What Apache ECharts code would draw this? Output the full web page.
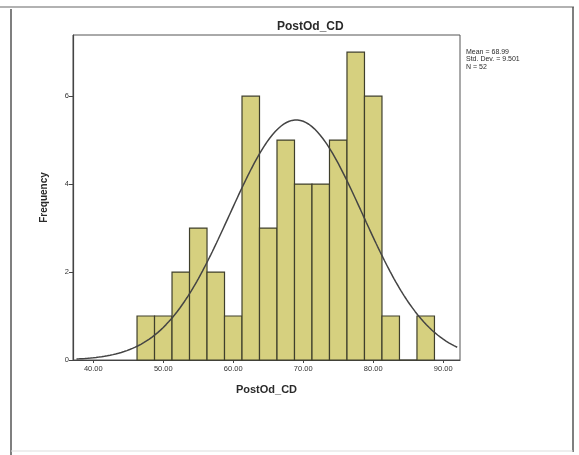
<!DOCTYPE html>
<html>
<head>
<meta charset="utf-8">
<script src="https://cdn.jsdelivr.net/npm/echarts@6/dist/echarts.min.js"></script>
<style>html,body{margin:0;padding:0;background:#fff;}#c{width:579px;height:455px;}</style>
</head>
<body>
<div id="c"></div>
<script>
// Histogram bins (lower edges, width 2.5) and frequencies
var binStarts = [46.25, 48.75, 51.25, 53.75, 56.25, 58.75, 61.25, 63.75, 66.25, 68.75, 71.25, 73.75, 76.25, 78.75, 81.25, 83.75, 86.25];
var counts    = [1, 1, 2, 3, 2, 1, 6, 3, 5, 4, 4, 5, 7, 6, 1, 0, 1];
var binWidth = 2.5;
var xTicks = [40, 50, 60, 70, 80, 90];
var yTicks = [0, 2, 4, 6];
var statMean = 68.99, statSD = 9.501, statN = 52;

var barData = binStarts.map(function (s, i) { return [s, s + binWidth, counts[i]]; });

// Fitted normal curve (from the displayed mean, SD, N)
var curve = [];
for (var x = 37.6; x <= 92.2; x += 0.2) {
  var z = (x - statMean) / statSD;
  curve.push([x, statN * binWidth * Math.exp(-0.5 * z * z) / (statSD * Math.sqrt(2 * Math.PI))]);
}

var chart = echarts.init(document.getElementById('c'));
chart.setOption({
  animation: false,
  backgroundColor: '#fff',
  title: {
    text: 'PostOd_CD', left: 272, top: 16,
    textStyle: { fontFamily: 'Liberation Sans', fontSize: 12, fontWeight: 'bold', color: '#2a2a2a' }
  },
  grid: { left: 73, top: 35, right: 119, bottom: 95, show: true, borderColor: '#555', borderWidth: 1 },
  xAxis: {
    type: 'value', min: 37.1, max: 92.4,
    name: 'PostOd_CD', nameLocation: 'middle', nameGap: 24,
    nameTextStyle: { fontFamily: 'Liberation Sans', fontSize: 11, fontWeight: 'bold', color: '#2a2a2a' },
    axisLine: { show: true, lineStyle: { color: '#444', width: 1.2 } },
    axisTick: { show: true, length: 3, customValues: xTicks, lineStyle: { color: '#444' } },
    axisLabel: { customValues: xTicks, fontFamily: 'Liberation Sans', fontSize: 7.5, color: '#333', margin: 5,
      formatter: function (v) { return v.toFixed(2); } },
    splitLine: { show: false }
  },
  yAxis: {
    type: 'value', min: 0, max: 7.39,
    name: 'Frequency', nameLocation: 'middle', nameGap: 24, nameRotate: 90,
    nameTextStyle: { fontFamily: 'Liberation Sans', fontSize: 10, fontWeight: 'bold', color: '#2a2a2a' },
    axisLine: { show: true, lineStyle: { color: '#444', width: 1.2 } },
    axisTick: { show: true, length: 4, customValues: yTicks, lineStyle: { color: '#444' } },
    axisLabel: { customValues: yTicks, fontFamily: 'Liberation Sans', fontSize: 7.5, color: '#333', margin: 4 },
    splitLine: { show: false }
  },
  graphic: [
    { type: 'line', shape: { x1: 0, y1: 7, x2: 574, y2: 7 }, style: { stroke: '#666', lineWidth: 1.2 } },
    { type: 'line', shape: { x1: 11, y1: 9, x2: 11, y2: 455 }, style: { stroke: '#555', lineWidth: 1.5 } },
    { type: 'line', shape: { x1: 573, y1: 7, x2: 573, y2: 452 }, style: { stroke: '#555', lineWidth: 1.5 } },
    { type: 'line', shape: { x1: 11, y1: 451, x2: 573, y2: 451 }, style: { stroke: '#ddd', lineWidth: 1 } },
    { type: 'text', left: 466, top: 48, style: {
        text: 'Mean = ' + statMean + '\nStd. Dev. = ' + statSD + '\nN = ' + statN,
        font: '7px "Liberation Sans"', fill: '#2a2a2a', lineHeight: 7.5 } }
  ],
  series: [
    {
      type: 'custom',
      data: barData,
      renderItem: function (params, api) {
        var p0 = api.coord([api.value(0), api.value(2)]);
        var p1 = api.coord([api.value(1), 0]);
        return {
          type: 'rect',
          shape: { x: p0[0], y: p0[1], width: p1[0] - p0[0], height: p1[1] - p0[1] },
          style: { fill: '#d6d07f', stroke: '#3f3f2c', lineWidth: 1.2 }
        };
      },
      encode: { x: [0, 1], y: 2 },
      z: 2
    },
    {
      type: 'line', data: curve, showSymbol: false, smooth: false,
      lineStyle: { color: '#444', width: 1.5 }, z: 3, silent: true
    }
  ]
});
</script>
</body>
</html>
